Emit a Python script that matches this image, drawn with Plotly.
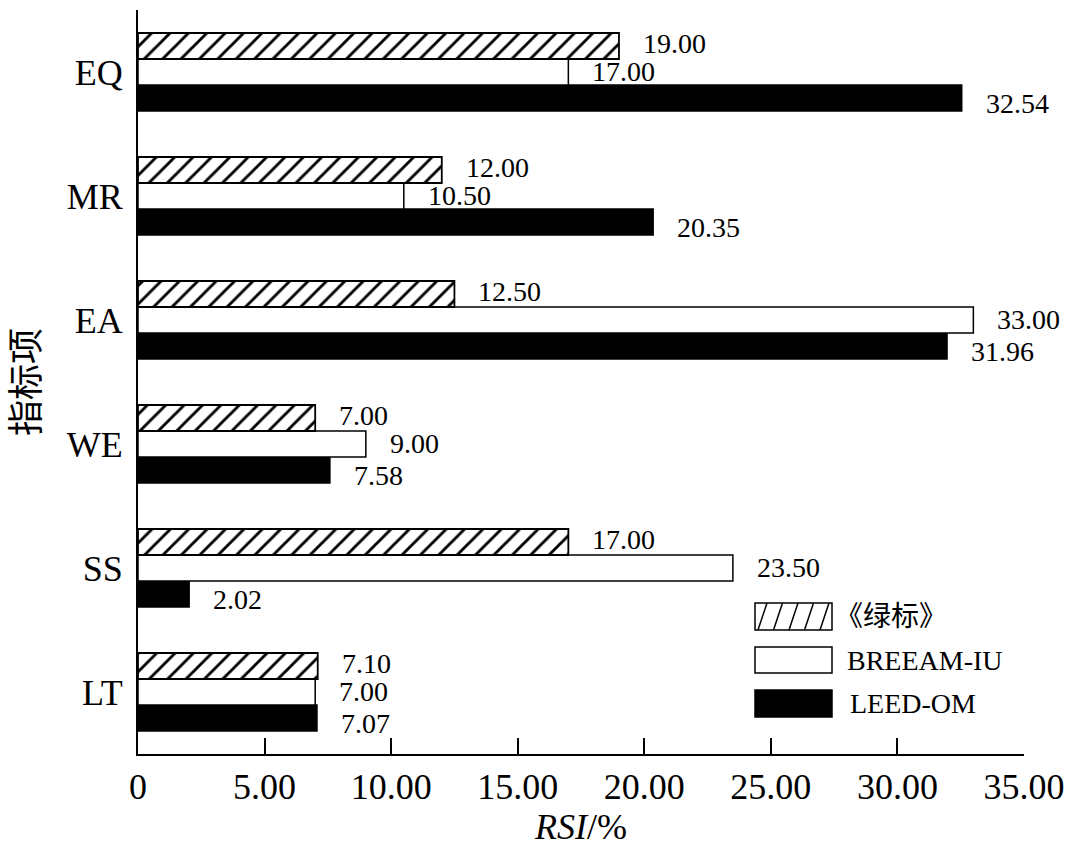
import plotly.graph_objects as go

categories = ["LT", "SS", "WE", "EA", "MR", "EQ"]
lvbiao = [7.10, 17.00, 7.00, 12.50, 12.00, 19.00]
breeam = [7.00, 23.50, 9.00, 33.00, 10.50, 17.00]
leed = [7.07, 2.02, 7.58, 31.96, 20.35, 32.54]
series_names = ["LEED-OM", "BREEAM-IU", "《绿标》"]
x_tickvals = [0, 5, 10, 15, 20, 25, 30, 35]
x_ticktext = ["0", "5.00", "10.00", "15.00", "20.00", "25.00", "30.00", "35.00"]

FONT = "Liberation Serif, 'Noto Sans CJK SC', serif"

W, H = 1080, 853
ML, MR, MT, MB = 138, 56, 10, 99
PW, PH = W - ML - MR, H - MT - MB

fig = go.Figure()
fig.add_trace(go.Bar(
    y=categories, x=leed, orientation="h", name=series_names[0],
    marker=dict(color="black", line=dict(color="black", width=1.5)),
    showlegend=False))
fig.add_trace(go.Bar(
    y=categories, x=breeam, orientation="h", name=series_names[1],
    marker=dict(color="white", line=dict(color="black", width=1.5)),
    showlegend=False))
fig.add_trace(go.Bar(
    y=categories, x=lvbiao, orientation="h", name=series_names[2],
    marker=dict(color="white", line=dict(color="black", width=1.8),
                pattern=dict(shape="/", size=13, solidity=0.22,
                             fgcolor="#000000", fgopacity=1,
                             bgcolor="white")),
    showlegend=False))

bargap = 0.371
bw = (1 - bargap) / 3
annos = []
for s, (vals, yshift) in enumerate([(leed, -5), (breeam, 1), (lvbiao, 3)]):
    off = (s - 1) * bw
    for i, v in enumerate(vals):
        annos.append(dict(x=v, y=i + off, xref="x", yref="y", text=f"{v:.2f}",
                          showarrow=False, xanchor="left", yanchor="middle",
                          xshift=22, yshift=yshift,
                          font=dict(family=FONT, size=28, color="black")))

# manual legend
def px2paper(px, py):
    return (px - ML) / PW, (H - MB - py) / PH

shapes = []
legend_boxes = [(603, 630), (647, 673), (690, 717)]
lx0, lx1 = 755, 832
fills = ["white", "white", "black"]
for (y0, y1), fc in zip(legend_boxes, fills):
    a = px2paper(lx0, y1)
    b = px2paper(lx1, y0)
    shapes.append(dict(type="rect", xref="paper", yref="paper",
                       x0=a[0], y0=a[1], x1=b[0], y1=b[1],
                       fillcolor=fc, line=dict(color="black", width=1.5)))
# hatch lines in first legend box
y0, y1 = legend_boxes[0]
for k in range(5):
    bx = lx0 + 3 + k * 15.5
    p0 = px2paper(bx, y1)
    p1 = px2paper(bx + 9, y0)
    shapes.append(dict(type="line", xref="paper", yref="paper",
                       x0=p0[0], y0=p0[1], x1=p1[0], y1=p1[1],
                       line=dict(color="black", width=1.5)))

legend_text_x = [833, 845, 848]
legend_labels = [series_names[2], series_names[1], series_names[0]]
for (y0, y1), tx, lab in zip(legend_boxes, legend_text_x, legend_labels):
    p = px2paper(tx, (y0 + y1) / 2)
    annos.append(dict(x=p[0], y=p[1], xref="paper", yref="paper", text=lab,
                      showarrow=False, xanchor="left", yanchor="middle",
                      font=dict(family=FONT, size=28, color="black")))

fig.update_layout(
    width=W, height=H,
    margin=dict(l=ML, r=MR, t=MT, b=MB, autoexpand=False),
    paper_bgcolor="white", plot_bgcolor="white",
    barmode="group", bargap=bargap, bargroupgap=0,
    font=dict(family=FONT, size=36, color="black"),
    annotations=annos, shapes=shapes,
    xaxis=dict(range=[0, 35], tickvals=x_tickvals, ticktext=x_ticktext,
               automargin=False,
               showgrid=False, zeroline=False, showline=True,
               linecolor="black", linewidth=2, ticks="inside", ticklen=16,
               tickwidth=2, tickcolor="black", ticklabelstandoff=0,
               tickfont=dict(family=FONT, size=36, color="black"),
               title=dict(text="<i>RSI</i>/%", standoff=2,
                          font=dict(family=FONT, size=36, color="black"))),
    yaxis=dict(categoryorder="array", categoryarray=categories,
               range=[-0.5, 5.5], automargin=False,
               showgrid=False, zeroline=False, showline=True,
               linecolor="black", linewidth=2, ticks="",
               ticklabelstandoff=6,
               tickfont=dict(family=FONT, size=36, color="black"),
               title=dict(text="指标项", standoff=16,
                          font=dict(family=FONT, size=36, color="black"))),
)

fig.write_html("out.html",
               config={"displayModeBar": False, "staticPlot": True},
               post_script="document.body.style.margin='0';document.body.style.padding='0';")
